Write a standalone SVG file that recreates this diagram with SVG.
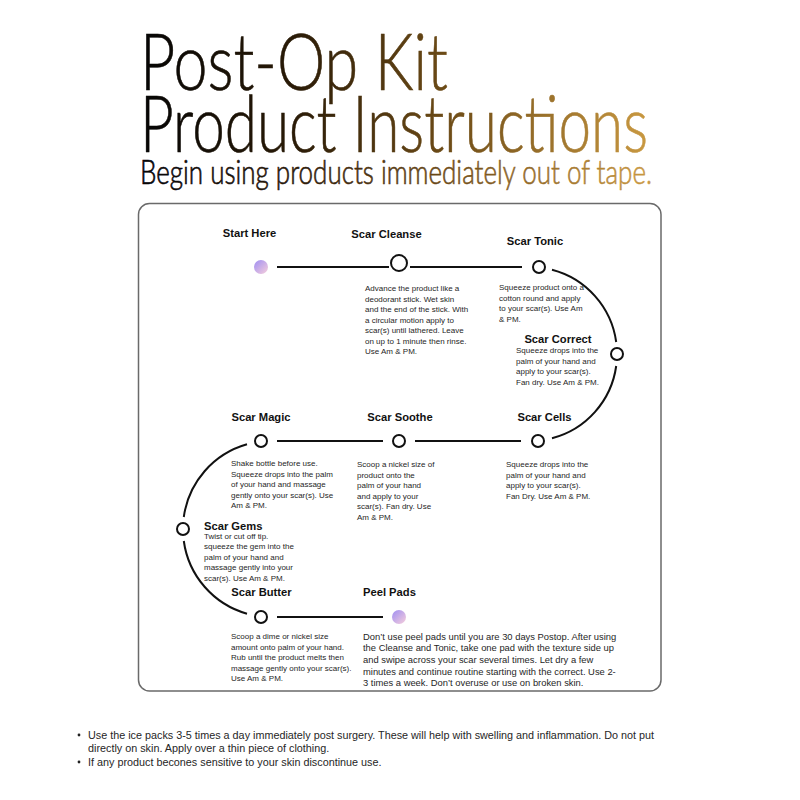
<svg xmlns="http://www.w3.org/2000/svg" width="800" height="800" viewBox="0 0 800 800">
<defs>
<linearGradient id="gold" gradientUnits="userSpaceOnUse" x1="140" y1="0" x2="655" y2="0">
<stop offset="0" stop-color="#050505"/>
<stop offset="0.3" stop-color="#2a1b07"/>
<stop offset="0.6" stop-color="#6e4c17"/>
<stop offset="1" stop-color="#cc9b42"/>
</linearGradient>
<linearGradient id="dot" x1="0" y1="0" x2="1" y2="1">
<stop offset="0" stop-color="#9f8ef2"/>
<stop offset="1" stop-color="#f7cfdc"/>
</linearGradient>
<style>
.ttl{font-family:Lato,"Liberation Sans",sans-serif;font-weight:300;fill:url(#gold);stroke:url(#gold);stroke-width:0.6}
.h{font-family:"Liberation Sans",Arial,sans-serif;font-weight:bold;font-size:11.2px;fill:#111}
.b{font-family:"Liberation Sans",Arial,sans-serif;font-size:8px;fill:#262626}
.p{font-family:"Liberation Sans",Arial,sans-serif;font-size:9.4px;fill:#262626}
.n{font-family:"Liberation Sans",Arial,sans-serif;font-size:10.8px;fill:#262626}
.c{text-anchor:middle}
.node{fill:#fff;stroke:#111;stroke-width:2}
.ln{fill:none;stroke:#111;stroke-width:2}
</style>
</defs>
<rect width="800" height="800" fill="#fff"/>
<g id="title">
<text class="ttl" x="140" y="90" font-size="78" textLength="308" lengthAdjust="spacingAndGlyphs">Post-Op Kit</text>
<text class="ttl" x="140" y="152" font-size="78" textLength="508" lengthAdjust="spacingAndGlyphs">Product Instructions</text>
<text class="ttl" x="140" y="184" font-size="33" textLength="512" lengthAdjust="spacingAndGlyphs" stroke-width="0.3">Begin using products immediately out of tape.</text>
</g>
<rect x="138.5" y="203.5" width="522.5" height="487.5" rx="11" fill="none" stroke="#6a6a6a" stroke-width="1.5"/>
<g id="connectors">
<line class="ln" x1="277" y1="267" x2="389" y2="267"/>
<line class="ln" x1="410" y1="267" x2="522" y2="267"/>
<path class="ln" d="M552 269.8 A87 87 0 0 1 616.2 342"/>
<path class="ln" d="M616.2 366 A87 87 0 0 1 552 438.2"/>
<line class="ln" x1="415" y1="441" x2="521" y2="441"/>
<line class="ln" x1="277" y1="441" x2="383" y2="441"/>
<path class="ln" d="M247 444.3 A88 88 0 0 0 183.8 517"/>
<path class="ln" d="M183.8 541 A88 88 0 0 0 247 613.7"/>
<line class="ln" x1="277" y1="617" x2="383" y2="617"/>
</g>
<g id="start-here">
<circle cx="261" cy="267" r="7" fill="url(#dot)"/>
<text class="h c" x="249.5" y="237">Start Here</text>
</g>
<g id="scar-cleanse">
<circle class="node" cx="399" cy="263" r="8"/>
<text class="h c" x="386.5" y="238">Scar Cleanse</text>
<text class="b" x="365" y="291">Advance the product like a</text>
<text class="b" x="365" y="301.5">deodorant stick. Wet skin</text>
<text class="b" x="365" y="312">and the end of the stick. With</text>
<text class="b" x="365" y="322.5">a circular motion apply to</text>
<text class="b" x="365" y="333">scar(s) until lathered. Leave</text>
<text class="b" x="365" y="343.5">on up to 1 minute then rinse.</text>
<text class="b" x="365" y="354">Use Am &amp; PM.</text>
</g>
<g id="scar-tonic">
<circle class="node" cx="539" cy="267" r="6"/>
<text class="h c" x="535" y="245">Scar Tonic</text>
<text class="b" x="499" y="290">Squeeze product onto a</text>
<text class="b" x="499" y="300.5">cotton round and apply</text>
<text class="b" x="499" y="311">to your scar(s). Use Am</text>
<text class="b" x="499" y="321.5">&amp; PM.</text>
</g>
<g id="scar-correct">
<circle class="node" cx="617" cy="354" r="6"/>
<text class="h c" x="558" y="343">Scar Correct</text>
<text class="b" x="516" y="353">Squeeze drops into the</text>
<text class="b" x="516" y="363.5">palm of your hand and</text>
<text class="b" x="516" y="374">apply to your scar(s).</text>
<text class="b" x="516" y="384.5">Fan dry. Use Am &amp; PM.</text>
</g>
<g id="scar-cells">
<circle class="node" cx="538" cy="441" r="6"/>
<text class="h c" x="544.5" y="421">Scar Cells</text>
<text class="b" x="506" y="467">Squeeze drops into the</text>
<text class="b" x="506" y="477.5">palm of your hand and</text>
<text class="b" x="506" y="488">apply to your scar(s).</text>
<text class="b" x="506" y="498.5">Fan Dry. Use Am &amp; PM.</text>
</g>
<g id="scar-soothe">
<circle class="node" cx="399" cy="441" r="6"/>
<text class="h c" x="400" y="421">Scar Soothe</text>
<text class="b" x="357" y="467">Scoop a nickel size of</text>
<text class="b" x="357" y="477.5">product onto the</text>
<text class="b" x="357" y="488">palm of your hand</text>
<text class="b" x="357" y="498.5">and apply to your</text>
<text class="b" x="357" y="509">scar(s). Fan dry. Use</text>
<text class="b" x="357" y="519.5">Am &amp; PM.</text>
</g>
<g id="scar-magic">
<circle class="node" cx="261" cy="441" r="6"/>
<text class="h c" x="261" y="421">Scar Magic</text>
<text class="b" x="231" y="466">Shake bottle before use.</text>
<text class="b" x="231" y="476.5">Squeeze drops into the palm</text>
<text class="b" x="231" y="487">of your hand and massage</text>
<text class="b" x="231" y="497.5">gently onto your scar(s). Use</text>
<text class="b" x="231" y="508">Am &amp; PM.</text>
</g>
<g id="scar-gems">
<circle class="node" cx="183" cy="529" r="6"/>
<text class="h" x="204" y="529.5">Scar Gems</text>
<text class="b" x="204" y="538.5">Twist or cut off tip.</text>
<text class="b" x="204" y="549">squeeze the gem into the</text>
<text class="b" x="204" y="559.5">palm of your hand and</text>
<text class="b" x="204" y="570">massage gently into your</text>
<text class="b" x="204" y="580.5">scar(s). Use Am &amp; PM.</text>
</g>
<g id="scar-butter">
<circle class="node" cx="261" cy="617" r="6"/>
<text class="h c" x="261.5" y="596">Scar Butter</text>
<text class="b" x="231" y="639">Scoop a dime or nickel size</text>
<text class="b" x="231" y="649.5">amount onto palm of your hand.</text>
<text class="b" x="231" y="660">Rub until the product melts then</text>
<text class="b" x="231" y="670.5">massage gently onto your scar(s).</text>
<text class="b" x="231" y="681">Use Am &amp; PM.</text>
</g>
<g id="peel-pads">
<circle cx="399" cy="617" r="7" fill="url(#dot)"/>
<text class="h" x="363" y="596">Peel Pads</text>
<text class="p" x="363" y="639.5">Don’t use peel pads until you are 30 days Postop. After using</text>
<text class="p" x="363" y="651.2">the Cleanse and Tonic, take one pad with the texture side up</text>
<text class="p" x="363" y="662.9">and swipe across your scar several times. Let dry a few</text>
<text class="p" x="363" y="674.6">minutes and continue routine starting with the correct. Use 2-</text>
<text class="p" x="363" y="686.3">3 times a week. Don’t overuse or use on broken skin.</text>
</g>
<g id="notes">
<circle cx="79" cy="735" r="1.4" fill="#222"/>
<circle cx="79" cy="762" r="1.4" fill="#222"/>
<text class="n" x="88" y="738.8">Use the ice packs 3-5 times a day immediately post surgery. These will help with swelling and inflammation. Do not put</text>
<text class="n" x="88" y="752.3">directly on skin. Apply over a thin piece of clothing.</text>
<text class="n" x="88" y="765.8">If any product becones sensitive to your skin discontinue use.</text>
</g>
</svg>
